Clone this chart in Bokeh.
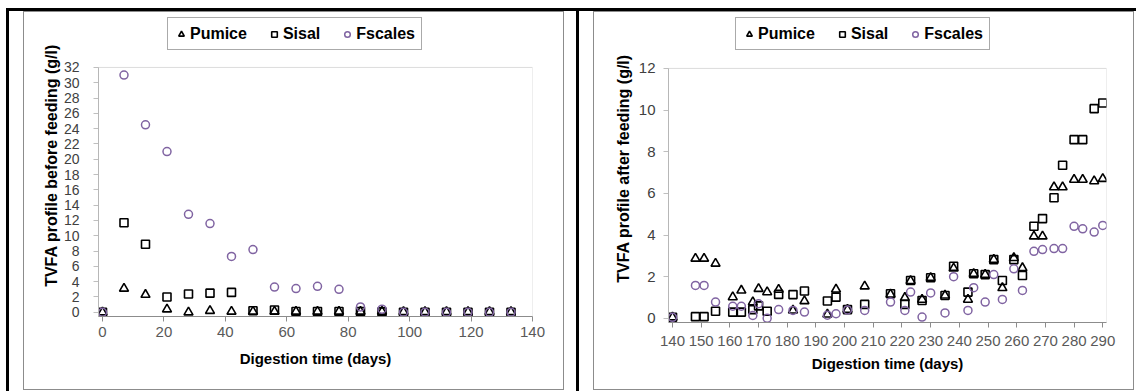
from bokeh.plotting import figure
from bokeh.models import FixedTicker, Legend, LegendItem, Range1d, Div, Spacer, BoxAnnotation
from bokeh.layouts import row, column
from bokeh.embed import file_html
from bokeh.resources import INLINE

FONT = "Liberation Sans"

# ---------------- data: before feeding ----------------
days_before = [0, 7, 14, 21, 28, 35, 42, 49, 56, 63, 70, 77, 84, 91, 98, 105, 112, 119, 126, 133]
pumice_before = [0.0, 3.1, 2.3, 0.4, 0.0, 0.2, 0.1, 0.1, 0.1, 0.1, 0.1, 0.1, 0.1, 0.1, 0.05, 0.05, 0.05, 0.05, 0.05, 0.05]
sisal_before = [0.0, 11.7, 8.9, 2.0, 2.4, 2.5, 2.6, 0.2, 0.3, 0.1, 0.1, 0.1, 0.1, 0.05, 0.0, 0.0, 0.0, 0.0, 0.0, 0.0]
fscales_before = [0.0, 31.0, 24.5, 21.0, 12.8, 11.6, 7.3, 8.2, 3.3, 3.1, 3.4, 3.0, 0.7, 0.4, 0.0, 0.0, 0.0, 0.0, 0.0, 0.0]

# ---------------- data: after feeding ----------------
days_after = [140, 148, 151, 155, 161, 164, 168, 170, 173, 177, 182, 186, 194, 197, 201, 207, 216, 221, 223,
              227, 230, 235, 238, 243, 245, 249, 252, 255, 259, 262, 266, 269, 273, 276, 280, 283, 287, 290]
pumice_after = [0.05, 2.87, 2.87, 2.63, 1.02, 1.34, 0.78, 1.42, 1.26, 1.38, 0.38, 0.83, 0.19, 1.39, 0.42, 1.54,
                1.15, 0.99, 1.8, 0.9, 1.95, 1.1, 2.4, 0.9, 2.14, 2.1, 2.82, 1.46, 2.9, 2.42, 3.94, 3.94, 6.3,
                6.3, 6.66, 6.66, 6.59, 6.7]
sisal_after = [0.05, 0.08, 0.08, 0.34, 0.3, 0.3, 0.42, 0.6, 0.34, 1.15, 1.14, 1.31, 0.83, 1.02, 0.42, 0.67,
               1.18, 0.67, 1.82, 0.86, 1.95, 1.1, 2.5, 1.26, 2.14, 2.1, 2.82, 1.82, 2.82, 2.06, 4.42, 4.79,
               5.79, 7.35, 8.58, 8.58, 10.07, 10.34]
fscales_after = [0.05, 1.58, 1.58, 0.78, 0.58, 0.58, 0.14, 0.7, 0.0, 0.42, 0.38, 0.3, 0.15, 0.22, 0.4, 0.38,
                 0.78, 0.38, 1.26, 0.06, 1.22, 0.26, 2.0, 0.38, 1.47, 0.78, 2.1, 0.91, 2.38, 1.34, 3.22, 3.3,
                 3.35, 3.35, 4.42, 4.3, 4.14, 4.46]

series_names = ["Pumice", "Sisal", "Fscales"]
x_ticks_before = list(range(0, 141, 20))
y_ticks_before = list(range(0, 33, 2))
x_ticks_after = list(range(140, 291, 10))
y_ticks_after = list(range(0, 13, 2))

PURPLE = "#8064A2"


def make_chart(days, pum, sis, fsc, xr, yr, ymax, xmax, xt, yt, ylabel, borders, legend_loc,
               ytick_std, ylab_std, xtick_std, xlab_std, ytick_font):
    p = figure(width=539, height=377, output_backend="svg", toolbar_location=None,
               x_range=Range1d(*xr), y_range=Range1d(*yr),
               min_border_left=borders[0], min_border_right=borders[1],
               min_border_top=borders[2], min_border_bottom=borders[3],
               styles={"outline": "1px solid #8c8c8c"})
    p.background_fill_color = "white"
    p.border_fill_color = "white"
    p.outline_line_color = None
    p.xgrid.visible = False
    p.ygrid.visible = False

    # plot-area box (the frame is taller, to hold the legend above it)
    p.add_layout(BoxAnnotation(left=xr[0], right=xmax, bottom=yr[0], top=ymax,
                               fill_color=None, line_color="#8c8c8c", line_width=1))

    r1 = p.scatter(days, pum, marker="triangle", size=9, fill_color=None,
                   line_color="black", line_width=1.6)
    r2 = p.scatter(days, sis, marker="square", size=8, fill_color=None,
                   line_color="black", line_width=1.6)
    r3 = p.scatter(days, fsc, marker="circle", size=8, fill_color=None,
                   line_color=PURPLE, line_width=1.5)

    for ax in (p.xaxis[0], p.yaxis[0]):
        ax.minor_tick_line_color = None
        ax.major_tick_in = 0
        ax.major_tick_out = 5
        ax.major_label_text_font = FONT
        ax.axis_label_text_font = FONT
        ax.axis_label_text_font_style = "bold"
        ax.axis_label_text_color = "black"
    p.xaxis.ticker = FixedTicker(ticks=xt)
    p.yaxis.ticker = FixedTicker(ticks=yt)
    p.yaxis.bounds = (yr[0], ymax)
    p.xaxis.axis_line_color = "#8c8c8c"
    p.xaxis.major_tick_line_color = "#8c8c8c"
    p.yaxis.axis_line_color = "#bfbfbf"
    p.yaxis.major_tick_line_color = "#bfbfbf"
    p.xaxis.major_label_text_font_size = "15px"
    p.xaxis.major_label_text_color = "#595959"
    p.yaxis.major_label_text_font_size = ytick_font
    p.yaxis.major_label_text_color = "#404040"
    p.xaxis.axis_label = "Digestion time (days)"
    p.xaxis.axis_label_text_font_size = "15px"
    p.yaxis.axis_label = ylabel
    p.yaxis.axis_label_text_font_size = "16px"
    p.yaxis.major_label_standoff = ytick_std
    p.yaxis.axis_label_standoff = ylab_std
    p.xaxis.major_label_standoff = xtick_std
    p.xaxis.axis_label_standoff = xlab_std

    legend = Legend(items=[LegendItem(label=series_names[0], renderers=[r1]),
                           LegendItem(label=series_names[1], renderers=[r2]),
                           LegendItem(label=series_names[2], renderers=[r3])],
                    orientation="horizontal", location=legend_loc, margin=0,
                    padding=6, spacing=20, glyph_width=14, glyph_height=14,
                    label_standoff=2, label_height=19,
                    label_text_font=FONT, label_text_font_style="bold",
                    label_text_font_size="16px", label_text_color="black",
                    border_line_color="#555555", border_line_width=1,
                    background_fill_color="white", background_fill_alpha=1.0)
    p.add_layout(legend)
    return p


p1 = make_chart(days_before, pumice_before, sisal_before, fscales_before,
                (-1.3, 140), (-0.55, 38.92), 32, 140, x_ticks_before, y_ticks_before,
                "TVFA profile before feeding (g/l)", (74, 31, 2, 73), (69, 266),
                14, 1, 5, 10, "14px")
p2 = make_chart(days_after, pumice_after, sisal_after, fscales_after,
                (138.6, 291.3), (-0.2, 14.59), 12, 291.3, x_ticks_after, y_ticks_after,
                "TVFA profile after feeding (g/l)", (74, 27, 2, 67), (67, 272),
                8, 4, 8, 6, "15px")


def vbar():
    return Div(text="", width=3, height=380, margin=0,
               styles={"background-color": "black"})


top_bar = row(Spacer(width=6),
              Div(text="", width=1130, height=3, margin=0, styles={"background-color": "black"}))
body = row(Spacer(width=6), vbar(), Spacer(width=15), column(Spacer(height=1), p1),
           Spacer(width=13), vbar(), Spacer(width=15), column(Spacer(height=1), p2))
page = column(Spacer(height=8), top_bar, body)

open("out.html", "w").write(file_html(page, INLINE))
